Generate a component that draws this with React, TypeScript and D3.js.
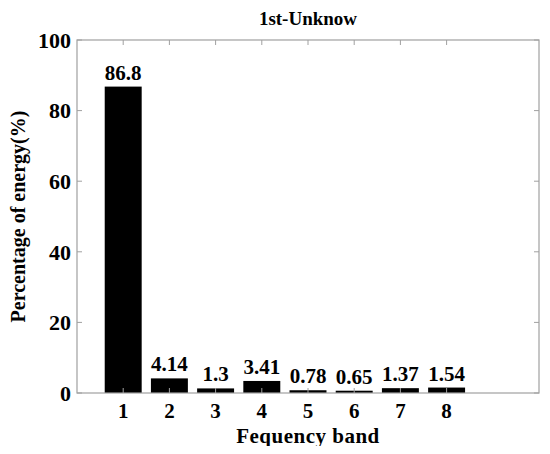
import React, { useEffect, useRef } from "react";
import * as d3 from "d3";

const bands = [1, 2, 3, 4, 5, 6, 7, 8];
const energy = [86.8, 4.14, 1.3, 3.41, 0.78, 0.65, 1.37, 1.54];
const valueLabels = ["86.8", "4.14", "1.3", "3.41", "0.78", "0.65", "1.37", "1.54"];
const yTicks = [0, 20, 40, 60, 80, 100];

const FONT = "'Liberation Serif', 'Times New Roman', serif";

export default function App() {
  const svgRef = useRef<SVGSVGElement>(null);

  useEffect(() => {
    if (!svgRef.current) return;
    const root = d3.select(svgRef.current);
    root.selectAll("*").remove();

    const width = 550;
    const height = 454;
    const margin = { top: 40, right: 11, bottom: 61, left: 77 };
    const w = width - margin.left - margin.right;
    const h = height - margin.top - margin.bottom;

    const x = d3.scaleLinear().domain([0, 10]).range([0, w]);
    const y = d3.scaleLinear().domain([0, 100]).range([h, 0]);
    const barW = x(0.8) - x(0);

    const g = root.append("g").attr("transform", `translate(${margin.left},${margin.top})`);

    // bars
    g.selectAll("rect.bar")
      .data(energy)
      .join("rect")
      .attr("class", "bar")
      .attr("x", (_, i) => x(bands[i]) - barW / 2)
      .attr("y", (d) => y(d))
      .attr("width", barW)
      .attr("height", (d) => h - y(d))
      .attr("fill", "#000");

    // value labels
    g.selectAll("text.val")
      .data(energy)
      .join("text")
      .attr("class", "val")
      .attr("x", (_, i) => x(bands[i]))
      .attr("y", (d) => y(d) - 7)
      .attr("text-anchor", "middle")
      .attr("font-family", FONT)
      .attr("font-weight", "bold")
      .attr("font-size", "21px")
      .text((_, i) => valueLabels[i]);

    // box
    const boxColor = "#a0a0a0";
    g.append("rect")
      .attr("x", 0)
      .attr("y", 0)
      .attr("width", w)
      .attr("height", h)
      .attr("fill", "none")
      .attr("stroke", boxColor)
      .attr("stroke-width", 1.2);

    const tl = 5;
    // x ticks (bottom + top, inward)
    bands.forEach((b) => {
      g.append("line").attr("x1", x(b)).attr("x2", x(b)).attr("y1", h).attr("y2", h - tl).attr("stroke", boxColor);
      g.append("line").attr("x1", x(b)).attr("x2", x(b)).attr("y1", 0).attr("y2", tl).attr("stroke", boxColor);
    });
    // y ticks (left + right, inward)
    yTicks.forEach((t) => {
      g.append("line").attr("x1", 0).attr("x2", tl).attr("y1", y(t)).attr("y2", y(t)).attr("stroke", boxColor);
      g.append("line").attr("x1", w).attr("x2", w - tl).attr("y1", y(t)).attr("y2", y(t)).attr("stroke", boxColor);
    });

    // y tick labels
    g.selectAll("text.ytick")
      .data(yTicks)
      .join("text")
      .attr("class", "ytick")
      .attr("x", -6)
      .attr("y", (d) => y(d))
      .attr("dy", "0.35em")
      .attr("text-anchor", "end")
      .attr("font-family", FONT)
      .attr("font-weight", "bold")
      .attr("font-size", "22px")
      .text((d) => d);

    // x tick labels
    g.selectAll("text.xtick")
      .data(bands)
      .join("text")
      .attr("class", "xtick")
      .attr("x", (d) => x(d))
      .attr("y", h + 25)
      .attr("text-anchor", "middle")
      .attr("font-family", FONT)
      .attr("font-weight", "bold")
      .attr("font-size", "21px")
      .text((d) => d);

    // x axis label
    g.append("text")
      .attr("x", w / 2)
      .attr("y", h + 50)
      .attr("text-anchor", "middle")
      .attr("font-family", FONT)
      .attr("font-weight", "bold")
      .attr("font-size", "21px")
      .attr("letter-spacing", "0.5px")
      .text("Fequency band");

    // y axis label
    g.append("text")
      .attr("transform", `translate(${-52},${h / 2}) rotate(-90)`)
      .attr("text-anchor", "middle")
      .attr("font-family", FONT)
      .attr("font-weight", "bold")
      .attr("font-size", "20px")
      .text("Percentage of energy(%)");

    // title
    g.append("text")
      .attr("x", w / 2)
      .attr("y", -15)
      .attr("text-anchor", "middle")
      .attr("font-family", FONT)
      .attr("font-weight", "bold")
      .attr("font-size", "19px")
      .text("1st-Unknow");
  }, []);

  return <svg ref={svgRef} width={550} height={454} style={{ display: "block", margin: "-8px" }} />;
}
